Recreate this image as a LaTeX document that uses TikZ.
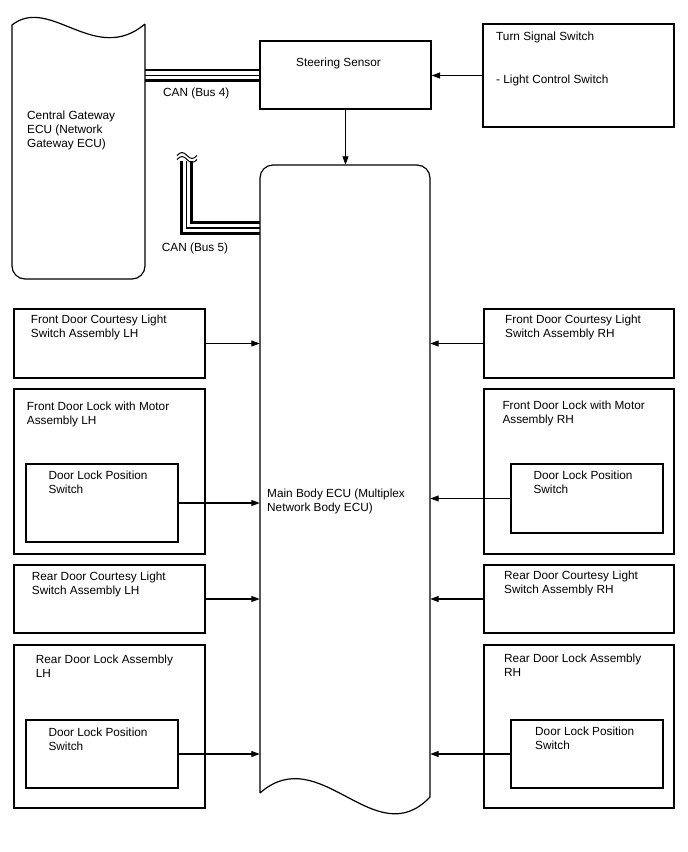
\documentclass[tikz,border=0pt]{standalone}
\usepackage{fontspec}
\setmainfont{Liberation Sans}
\usetikzlibrary{arrows.meta,fit}
\begin{document}
\begin{tikzpicture}[x=1pt,y=-1pt,
  boxs/.style={draw, line width=1.2pt, inner sep=0pt},
  ghost/.style={inner sep=0pt},
  lbl/.style={anchor=base west, inner sep=0pt, align=left, font=\fontsize{11.8}{14}\selectfont},
  arr/.style={-{Triangle[length=8.5pt,width=6pt]}, line width=1.1pt},
  busthick/.style={line width=2.5pt},
  busthin/.style={line width=1.1pt}]
\useasboundingbox (0,0) rectangle (688,852);
\fill[white] (0,0) rectangle (688,852);

% Central Gateway ECU
\node[ghost, fit={(12,25) (145,279)}] (gw) {};
\draw[line width=1.2pt] (145,24) -- (145,200) [rounded corners=13pt] -- (145,279) -- (12,279) -- (12,200) [sharp corners] -- (12,25)
  .. controls (50,-5) and (95,66) .. (145,24);
\node[lbl] at (27,147) {Central Gateway\\ECU (Network\\Gateway ECU)};

% Main Body ECU
\node[ghost, fit={(260,165) (430,800)}] (ecu) {};
\draw[line width=1.2pt] (260,793) -- (260,300) [rounded corners=13pt] -- (260,165) -- (430,165) -- (430,300) [sharp corners] -- (430,797)
  .. controls (375,855) and (320,740) .. (260,793);
\node[lbl] at (267,511) {Main Body ECU (Multiplex\\Network Body ECU)};

% Steering sensor and turn signal switch
\node[boxs, fit={(260,41) (431,109)}] (steer) {};
\node[lbl] at (296,66) {Steering Sensor};
\node[boxs, fit={(483,24) (674,127)}] (turn) {};
\node[lbl] at (496,40.7) {Turn Signal Switch};
\node[lbl] at (496,83.3) {- Light Control Switch};
\draw[arr] (turn.west) -- (turn.west -| steer.east);
\draw[arr] (steer.south) -- (steer.south |- ecu.north);

% CAN Bus 4
\draw[busthick] ([yshift=4.8pt]gw.east |- steer.west) -- ([yshift=4.8pt]steer.west);
\draw[busthin]  ([yshift=-0.5pt]gw.east |- steer.west) -- ([yshift=-0.5pt]steer.west);
\draw[busthick] ([yshift=-5.5pt]gw.east |- steer.west) -- ([yshift=-5.5pt]steer.west);
\node[lbl] at (163,96.5) {CAN (Bus 4)};

% CAN Bus 5
\coordinate (s1) at (181.5,161);
\coordinate (s2) at (186.5,161);
\coordinate (s3) at (191.5,161);
\draw[busthick] (s1) |- (ecu.west |- 0,233.5);
\draw[busthin]  (s2) |- (ecu.west |- 0,228);
\draw[busthick] (s3) |- (ecu.west |- 0,222.5);
\draw[line width=1pt] (177,155.5) sin (182,152.5) cos (187,155.5) sin (192,158.5) cos (197,155.5);
\draw[line width=1pt] (177,159.5) sin (182,156.5) cos (187,159.5) sin (192,162.5) cos (197,159.5);
\node[lbl] at (161.7,251) {CAN (Bus 5)};

% Left side
\node[boxs, fit={(14,309) (205,378)}] (fdcL) {};
\node[lbl] at (30.7,337.3) {Front Door Courtesy Light\\Switch Assembly LH};
\node[boxs, fit={(14,389) (205,554)}] (fdlL) {};
\node[lbl] at (26.7,424) {Front Door Lock with Motor\\Assembly LH};
\node[boxs, fit={(26,464) (178,542)}] (dlpL1) {};
\node[lbl] at (48.3,493.3) {Door Lock Position\\Switch};
\node[boxs, fit={(14,565) (205,633)}] (rdcL) {};
\node[lbl] at (31.7,594) {Rear Door Courtesy Light\\Switch Assembly LH};
\node[boxs, fit={(14,645) (205,808)}] (rdlL) {};
\node[lbl] at (35.7,677.3) {Rear Door Lock Assembly\\LH};
\node[boxs, fit={(26,720) (178,788)}] (dlpL2) {};
\node[lbl] at (48.3,750.7) {Door Lock Position\\Switch};

\draw[arr] (fdcL.east) -- (fdcL.east -| ecu.west);
\draw[arr] (dlpL1.east) -- (dlpL1.east -| ecu.west);
\draw[arr] (rdcL.east) -- (rdcL.east -| ecu.west);
\draw[arr] (dlpL2.east) -- (dlpL2.east -| ecu.west);

% Right side
\node[boxs, fit={(484,309) (674,378)}] (fdcR) {};
\node[lbl] at (505,337.3) {Front Door Courtesy Light\\Switch Assembly RH};
\node[boxs, fit={(484,389) (674,554)}] (fdlR) {};
\node[lbl] at (502.3,423.3) {Front Door Lock with Motor\\Assembly RH};
\node[boxs, fit={(511,464) (663,533)}] (dlpR1) {};
\node[lbl] at (533.3,493.3) {Door Lock Position\\Switch};
\node[boxs, fit={(484,565) (674,633)}] (rdcR) {};
\node[lbl] at (504,593) {Rear Door Courtesy Light\\Switch Assembly RH};
\node[boxs, fit={(484,645) (674,808)}] (rdlR) {};
\node[lbl] at (504,676.5) {Rear Door Lock Assembly\\RH};
\node[boxs, fit={(511,720) (663,788)}] (dlpR2) {};
\node[lbl] at (535,749.5) {Door Lock Position\\Switch};

\draw[arr] (fdcR.west) -- (fdcR.west -| ecu.east);
\draw[arr] (dlpR1.west) -- (dlpR1.west -| ecu.east);
\draw[arr] (rdcR.west) -- (rdcR.west -| ecu.east);
\draw[arr] (dlpR2.west) -- (dlpR2.west -| ecu.east);
\end{tikzpicture}
\end{document}
